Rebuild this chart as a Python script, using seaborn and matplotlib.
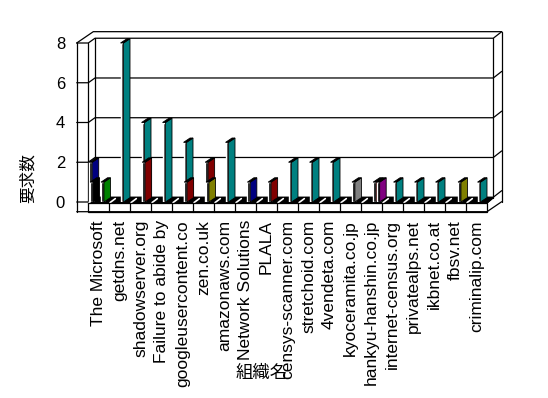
import numpy as np
import matplotlib
matplotlib.use("Agg")
import matplotlib.pyplot as plt
import seaborn as sns

sns.set_theme(style="white")
plt.rcParams['font.family'] = ['Liberation Sans', 'Noto Sans CJK JP']

# --- datos ---
organizaciones = ["The Microsoft", "getdns.net", "shadowserver.org", "Failure to abide by",
                  "googleusercontent.co", "zen.co.uk", "amazonaws.com", "Network Solutions",
                  "PLALA", "censys-scanner.com", "stretchoid.com", "4vendeta.com",
                  "kyoceramita.co.jp", "hankyu-hanshin.co.jp", "internet-census.org",
                  "privatealps.net", "ikbnet.co.at", "fbsv.net", "criminalip.com"]

serie_navy1 = [2, 0, 0, 0, 0, 0, 0, 0, 0, 0, 0, 0, 0, 0, 0, 0, 0, 0, 0]
serie_black = [1, 0, 0, 0, 0, 0, 0, 0, 0, 0, 0, 0, 0, 0, 0, 0, 0, 0, 0]
serie_green = [1, 0, 0, 0, 0, 0, 0, 0, 0, 0, 0, 0, 0, 0, 0, 0, 0, 0, 0]
serie_teal = [0, 8, 4, 4, 3, 0, 3, 0, 0, 2, 2, 2, 0, 0, 1, 1, 1, 0, 1]
serie_maroon = [0, 0, 2, 0, 1, 2, 0, 0, 1, 0, 0, 0, 0, 1, 0, 0, 0, 0, 0]
serie_olive = [0, 0, 0, 0, 0, 1, 0, 0, 0, 0, 0, 0, 0, 0, 0, 0, 0, 1, 0]
serie_navy2 = [0, 0, 0, 0, 0, 0, 0, 1, 0, 0, 0, 0, 0, 0, 0, 0, 0, 0, 0]
serie_gray = [0, 0, 0, 0, 0, 0, 0, 0, 0, 0, 0, 0, 1, 0, 0, 0, 0, 0, 0]
serie_purple = [0, 0, 0, 0, 0, 0, 0, 0, 0, 0, 0, 0, 0, 1, 0, 0, 0, 0, 0]

yticks = [0, 2, 4, 6, 8]

# --- estilo: (valores, color, desplazamiento dentro de la categoria) ---
series = [
    (serie_navy1, "#000080", -0.44),
    (serie_black, "#000000", -0.40),
    (serie_green, "#008000", 0.12),
    (serie_teal, "#008080", 0.05),
    (serie_maroon, "#800000", 0.08),
    (serie_olive, "#808000", 0.12),
    (serie_navy2, "#000080", 0.09),
    (serie_gray, "#808080", 0.07),
    (serie_purple, "#800080", 0.25),
]

fig = plt.figure(figsize=(5.48, 3.98), dpi=100)
ax = fig.add_axes([88 / 548, 1 - 202 / 398, 399 / 548, 159 / 398])
ax.set_xlim(-0.5, 18.5)
ax.set_ylim(0, 8)
for s in ax.spines.values():
    s.set_visible(False)
ax.grid(False)

lw = 0.9
kw = dict(color="black", lw=lw, clip_on=False)

# caja 3D (paredes)
xa, xb = -0.167, 18.80      # pared del fondo
xo_l, xo_r = -0.248, 19.20  # borde exterior
xl0, xl1 = -1.038, -0.486   # pared izquierda (cara frontal)
dy_in, dy_out = 0.24, 0.57
for v in yticks:
    ax.plot([xl0, xl1, xa, xb, xo_r], [v, v, v + dy_in, v + dy_in, v + dy_out], zorder=1, **kw)
ax.plot([xl0, xl0], [8, -0.488], zorder=1, **kw)
ax.plot([xl1, xl1], [8, -0.05], zorder=1, **kw)
ax.plot([xa, xa], [0.2, 8 + dy_in], zorder=1, **kw)
ax.plot([xb, xb], [0.2, 8 + dy_in], zorder=1, **kw)
ax.plot([xo_r, xo_r], [0.015, 8 + dy_out], zorder=1, **kw)
ax.plot([xl0, xo_l, xo_r], [8, 8 + dy_out, 8 + dy_out], zorder=1, **kw)

# suelo
ax.fill([xl1, 18.5, 18.80, xa], [-0.05, -0.05, 0.22, 0.22], color="black", zorder=2, clip_on=False)
x = np.arange(len(organizaciones))
for k in x:
    ax.plot([k - 0.45, k - 0.2], [-0.03, 0.17], color="white", lw=1.2, zorder=2.5, clip_on=False)
ax.fill([xl1, 18.5, 18.5, xl1], [-0.05, -0.05, -0.488, -0.488], facecolor="white",
        edgecolor="black", lw=lw, zorder=2.6, clip_on=False)
for k in x[1:]:
    ax.plot([k - 0.5, k - 0.5], [-0.05, -0.488], zorder=2.7, **kw)
ax.plot([xl0, 18.5, xo_r, xo_r], [-0.488, -0.488, 0.015, 0.015], zorder=2.7, **kw)
ax.plot([18.5, xb], [-0.05, 0.22], zorder=2.7, **kw)

# barras pseudo-3D
fw, sw, rise = 0.14, 0.31, 0.22
z = 4
for vals, col, off in series:
    vals = np.asarray(vals, dtype=float)
    m = vals > 0
    x0 = x[m] + off
    ax.bar(x0, vals[m], width=fw, align="edge", color="black", zorder=z)
    for xi, vi in zip(x0, vals[m]):
        ax.fill([xi + fw, xi + fw + sw, xi + fw + sw, xi + fw],
                [0, rise, vi + rise, vi], facecolor=col, edgecolor="black",
                lw=0.6, zorder=z + 0.1, clip_on=False)
        ax.fill([xi, xi + fw, xi + fw + sw, xi + sw],
                [vi, vi, vi + rise, vi + rise], facecolor="black", edgecolor="black",
                lw=0.6, zorder=z + 0.2, clip_on=False)
    z += 1

ax.set_xticks(x)
ax.set_xticklabels(organizaciones, rotation=90, fontsize=12.5, color="black")
ax.set_yticks(yticks)
ax.set_yticklabels([str(v) for v in yticks], fontsize=12, color="black")
ax.tick_params(axis="x", length=0, pad=13)
ax.tick_params(axis="y", length=0, pad=16.5)

ax.set_ylabel("要求数", fontsize=12, va="center", color="black")
ax.yaxis.set_label_coords(-0.15, 0.15)
ax.set_xlabel("組織名", fontsize=12.5, va="center", color="black")
ax.xaxis.set_label_coords(0.435, -1.072)

fig.savefig("out.png", dpi=100, facecolor="white")
